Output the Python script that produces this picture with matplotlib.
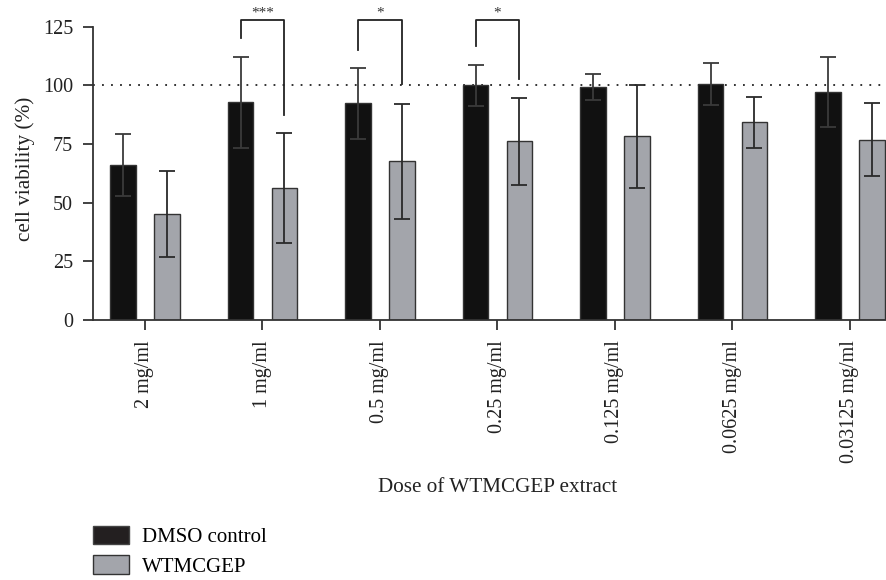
import matplotlib
matplotlib.use("Agg")
import matplotlib.pyplot as plt
import numpy as np
from matplotlib.patches import Patch

categories = ["2 mg/ml", "1 mg/ml", "0.5 mg/ml", "0.25 mg/ml", "0.125 mg/ml", "0.0625 mg/ml", "0.03125 mg/ml"]
dmso = [66.0, 92.7, 92.3, 100.0, 99.2, 100.7, 97.1]
dmso_err = [13.3, 19.5, 15.0, 8.8, 5.5, 9.0, 15.0]
wtm = [45.2, 56.2, 67.7, 76.2, 78.2, 84.2, 76.8]
wtm_err = [18.5, 23.5, 24.5, 18.5, 22.0, 11.0, 15.5]
yticks = [0, 25, 50, 75, 100, 125]
# significance: (group index, label, top, left leg bottom, right leg bottom)
sig_groups = [1, 2, 3]
sig_labels = ["***", "*", "*"]
sig_top = [127.7, 127.7, 127.7]
sig_left_bottom = [120.2, 115.2, 116.6]
sig_right_bottom = [87.5, 100.7, 102.7]

plt.rcParams['font.family'] = ['Liberation Serif', 'DejaVu Serif']

fig = plt.figure(figsize=(8.87, 5.8), dpi=100)
ax = fig.add_axes([0.1045, 0.4483, 0.8955, 0.5057])

x = np.arange(len(categories))
off = 0.186
w = 0.217
black = "#111111"
grey = "#a3a5ab"
edge = "#333333"

ax.bar(x - off, dmso, width=w, color=black, edgecolor=edge, linewidth=1.0, zorder=2)
ax.bar(x + off, wtm, width=w, color=grey, edgecolor=edge, linewidth=1.0, zorder=2)
ax.errorbar(x - off, dmso, yerr=dmso_err, fmt='none', ecolor='#3a3a3a', elinewidth=1.3,
            capsize=5.5, capthick=1.3, zorder=3)
ax.errorbar(x + off, wtm, yerr=wtm_err, fmt='none', ecolor='#2a2a2a', elinewidth=1.3,
            capsize=5.5, capthick=1.3, zorder=3)

ax.axhline(100, color='#222222', linestyle=(0, (1, 4)), linewidth=1.3, zorder=1)

for g, lab, top, lb, rb in zip(sig_groups, sig_labels, sig_top, sig_left_bottom, sig_right_bottom):
    xl = g - off
    xr = g + off
    ax.plot([xl, xl, xr, xr], [lb, top, top, rb], color='#222222', linewidth=1.3,
            clip_on=False, zorder=4)
    ax.text((xl + xr) / 2, top + 3.2, lab, ha='center', va='center', fontsize=11,
            color='#333333', clip_on=False)

ax.set_xlim(-0.445, 6.315)
ax.set_ylim(0, 125)
ax.set_yticks(yticks)
ax.set_yticklabels([str(t) for t in yticks])
ax.set_xticks(x)
ax.set_xticklabels(categories, rotation=90, va='top', ha='center')

for s in ['top', 'right']:
    ax.spines[s].set_visible(False)
for s in ['left', 'bottom']:
    ax.spines[s].set_color('#333333')
    ax.spines[s].set_linewidth(1.3)

ax.tick_params(axis='both', labelsize=14.5, length=7.2, width=1.3, color='#333333', labelcolor='#222222')
ax.tick_params(axis='x', pad=7.5)
ax.tick_params(axis='y', pad=7)

ax.set_ylabel("cell viability (%)", fontsize=15.3, color='#222222')
ax.yaxis.set_label_coords(-0.085, 0.515)
ax.yaxis.label.set_va('center')
ax.set_xlabel("Dose of WTMCGEP extract", fontsize=15.2, color='#222222')
ax.xaxis.set_label_coords(0.51, -0.5695)
ax.xaxis.label.set_va('center')

handles = [Patch(facecolor='#231f20', edgecolor='#444444', linewidth=1.0, label='DMSO control'),
           Patch(facecolor=grey, edgecolor='#333333', linewidth=1.0, label='WTMCGEP')]
fig.legend(handles=handles, loc='upper left', bbox_to_anchor=(93 / 887, 1 - 526 / 580),
           frameon=False, fontsize=15, handlelength=1.75, handleheight=0.98,
           handletextpad=0.62, labelspacing=0.38, borderpad=0, borderaxespad=0)

fig.savefig("out.png", dpi=100)
